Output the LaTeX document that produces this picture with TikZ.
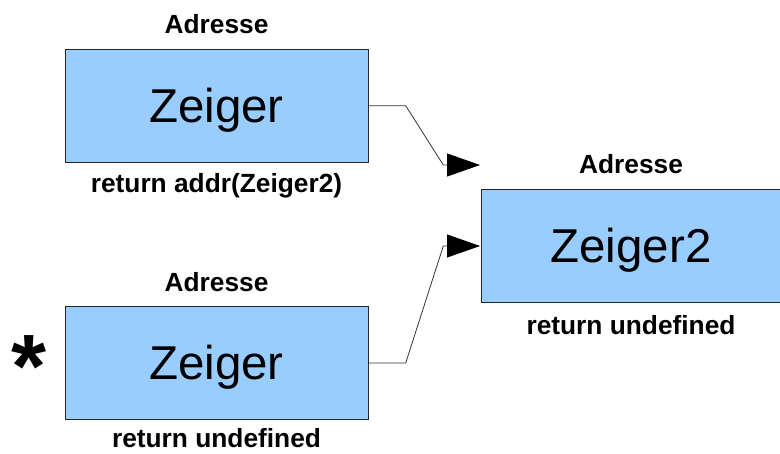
\documentclass[tikz,border=0pt]{standalone}
\usepackage{fontspec}
\setmainfont{Liberation Sans}
\usetikzlibrary{arrows.meta}
\definecolor{boxblue}{HTML}{99CCFF}
\definecolor{edgegray}{HTML}{333333}
\tikzset{
  box/.style={draw=black!85, line width=0.8pt, fill=boxblue, inner sep=0pt,
    font=\fontsize{47.5}{56}\selectfont, text height=34pt, text depth=0pt},
  lbl/.style={anchor=base, inner sep=0pt, font=\fontsize{26.3}{30}\selectfont\bfseries},
  conn/.style={draw=edgegray, line width=0.8pt, -{Triangle[length=33pt,width=23pt,color=black,fill=black]}},
}
\begin{document}
\begin{tikzpicture}[x=1pt,y=-1pt]
\useasboundingbox (0,0) rectangle (780,454);
% boxes
\node[box, minimum width=303pt, minimum height=113pt] (z1) at (216.5,105.7) {Zeiger};
\node[box, minimum width=303pt, minimum height=113pt] (z3) at (216.5,363) {Zeiger};
\node[box, minimum width=300pt, minimum height=113.4pt] (z2) at (631,246) {Zeiger2};
% labels
\node[lbl] (a1) at (216.5,33.3) {Adresse};
\node[lbl] (r1) at (216.5,193) {return addr(Zeiger2)};
\node[lbl] (a2) at (631,173.3) {Adresse};
\node[lbl] (r2) at (631,335) {return undefined};
\node[lbl] (a3) at (216.5,292) {Adresse};
\node[lbl] (r3) at (216.5,448) {return undefined};
\node[anchor=base, inner sep=0pt, font=\fontsize{90}{100}\selectfont\bfseries] (star) at (29,398) {*};
% connectors
\coordinate (k1) at (405.7,105.7);
\coordinate (d1) at (443.3,165);
\coordinate (t1) at (480,165);
\coordinate (k3) at (405.7,363);
\coordinate (d3) at (443.3,246);
\coordinate (t3) at (480,246);
\draw[conn] (z1.east) -- (k1) -- (d1) -- (t1);
\draw[conn] (z3.east) -- (k3) -- (d3) -- (t3);
\end{tikzpicture}
\end{document}
